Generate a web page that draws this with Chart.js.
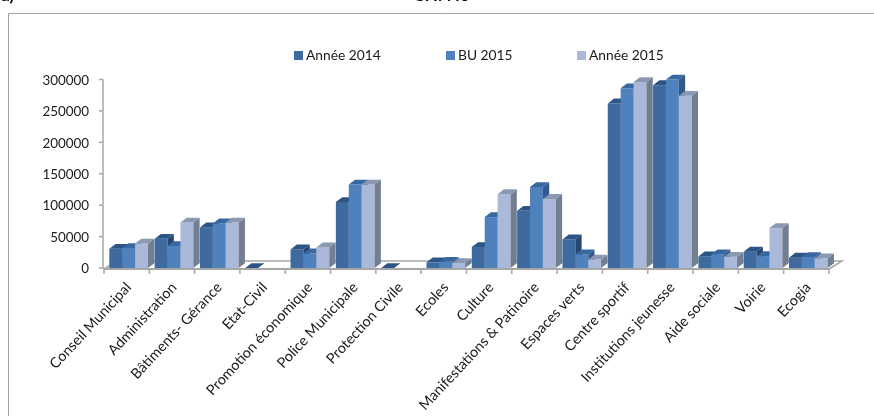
<!DOCTYPE html>
<html>
<head>
<meta charset="utf-8">
<style>
  html, body { margin: 0; padding: 0; background: #fff; }
  #wrap { width: 874px; height: 416px; }
</style>
<script src="https://cdn.jsdelivr.net/npm/chart.js@4"></script>
</head>
<body>
<div id="wrap"><canvas id="bars"></canvas></div>
<script>
const categories = ["Conseil Municipal", "Administration", "Bâtiments- Gérance", "Etat-Civil",
    "Promotion économique", "Police Municipale", "Protection Civile", "Ecoles", "Culture",
    "Manifestations & Patinoire", "Espaces verts", "Centre sportif", "Institutions jeunesse",
    "Aide sociale", "Voirie", "Ecogia"];
const annee2014 = [30700, 46600, 64600, 0, 29600, 105000, 0, 9000, 33500, 91000, 45500, 262000, 291000, 18500, 26000, 16500];
const bu2015 = [31800, 35000, 71000, null, 23200, 133000, null, 10000, 81000, 129000, 22000, 286000, 300000, 22000, 19000, 17500];
const annee2015 = [39000, 72500, 72500, null, 32800, 133000, null, 8000, 117500, 110000, 13500, 296000, 274000, 18000, 63500, 15500];
const yTicks = [0, 50000, 100000, 150000, 200000, 250000, 300000];

const uiFont = "Lato";
const axisGray = "#a6a6a6";
// front, top and side colours of each series
const faces = [
    { front: "#3e6a9f", top: "#2c5585", side: "#26466f" },
    { front: "#4f81bd", top: "#38689f", side: "#305a8b" },
    { front: "#aab9d9", top: "#8a98b2", side: "#727e92" }
];
const depthX = 6.3, depthY = 4.8;

function drawFaces(c, bar, f) {
    const p = bar.getProps(["x", "y", "base", "width"], true);
    const l = p.x - p.width / 2, r = p.x + p.width / 2;
    c.fillStyle = f.side;
    c.beginPath();
    c.moveTo(r, p.y);
    c.lineTo(r + depthX, p.y - depthY);
    c.lineTo(r + depthX, p.base - depthY);
    c.lineTo(r, p.base);
    c.closePath();
    c.fill();
    c.fillStyle = f.top;
    c.beginPath();
    c.moveTo(l, p.y);
    c.lineTo(l + depthX, p.y - depthY);
    c.lineTo(r + depthX, p.y - depthY);
    c.lineTo(r, p.y);
    c.closePath();
    c.fill();
}

// fake Excel 3D look: floor, frame, legend and the bar sides
const excelLook = {
    id: "excelLook",
    beforeDatasetsDraw(chart) {
        const c = chart.ctx, x = chart.scales.x, y = chart.scales.y;
        const left = x.left - 2, right = x.right - 2, base = y.bottom + 1;
        c.save();
        c.strokeStyle = axisGray;
        c.lineWidth = 1.5;
        // floor
        c.beginPath();
        c.moveTo(left, base);
        c.lineTo(left + 13, base - 8);
        c.lineTo(right + 13, base - 8);
        c.lineTo(right, base);
        c.stroke();
        c.lineWidth = 2;
        c.beginPath();
        c.moveTo(left, base);
        c.lineTo(right, base);
        c.stroke();
        // x ticks
        c.lineWidth = 1.5;
        for (let i = 0; i <= categories.length; i++) {
            const px = left + (right - left) * i / categories.length;
            c.beginPath();
            c.moveTo(px, base);
            c.lineTo(px, base + 5);
            c.stroke();
        }
        // y axis
        c.beginPath();
        c.moveTo(left - 1, y.top);
        c.lineTo(left - 1, y.bottom + 1);
        c.stroke();
        yTicks.forEach(v => {
            const py = y.getPixelForValue(v);
            c.beginPath();
            c.moveTo(left - 5, py);
            c.lineTo(left - 1, py);
            c.stroke();
        });
        c.restore();
    },
    // the library draws the last series first, here the first one has to be at the back
    beforeDatasetDraw() {
        return false;
    },
    afterDatasetsDraw(chart) {
        const c = chart.ctx;
        const metas = chart.data.datasets.map((ds, i) => chart.getDatasetMeta(i));
        c.save();
        categories.forEach((name, i) => {
            metas.forEach((meta, s) => {
                const bar = meta.data[i];
                if (!bar || bar.skip || meta.controller.getParsed(i).y == null || isNaN(meta.controller.getParsed(i).y)) return;
                bar.draw(c);
                drawFaces(c, bar, faces[s]);
            });
        });
        c.restore();
    },
    afterDraw(chart) {
        const c = chart.ctx;
        c.save();
        // frame of the pasted picture
        c.strokeStyle = "#a0a0a0";
        c.lineWidth = 1;
        c.beginPath();
        c.moveTo(8.5, 416);
        c.lineTo(8.5, 13.5);
        c.lineTo(874, 13.5);
        c.stroke();
        // legend
        const legendX = [294, 446, 577];
        c.font = "13.8px " + uiFont;
        c.textBaseline = "middle";
        chart.data.datasets.forEach((ds, i) => {
            c.fillStyle = ds.backgroundColor;
            c.fillRect(legendX[i], 51, 9, 9);
            c.fillStyle = "#1a1a1a";
            c.fillText(ds.label, legendX[i] + 12, 55.5);
        });
        // document headings cut by the top of the image
        c.fillStyle = "#111";
        c.font = "bold 17.5px " + uiFont;
        c.textBaseline = "alphabetic";
        c.fillText("a)", 1, 1);
        c.fillText("CH. No", 413, 1);
        c.restore();
    }
};

new Chart(document.getElementById("bars"), {
    type: "bar",
    data: {
        labels: categories,
        datasets: [
            { label: "Année 2014", data: annee2014, backgroundColor: faces[0].front },
            { label: "BU 2015", data: bu2015, backgroundColor: faces[1].front },
            { label: "Année 2015", data: annee2015, backgroundColor: faces[2].front }
        ]
    },
    options: {
        responsive: true,
        maintainAspectRatio: false,
        animation: false,
        layout: { padding: { top: 79.5, right: 43, left: 0, bottom: 0 } },
        datasets: { bar: { categoryPercentage: 0.854, barPercentage: 1 } },
        plugins: { legend: { display: false }, title: { display: false }, tooltip: { enabled: false } },
        scales: {
            x: {
                afterFit: s => { s.height = 148; },
                grid: { display: false },
                border: { display: false },
                ticks: {
                    autoSkip: false, minRotation: 47, maxRotation: 47, padding: 3,
                    color: "#1a1a1a", font: { family: uiFont, size: 14.4 }
                }
            },
            y: {
                min: 0,
                max: 300000,
                afterFit: s => { s.width = 106; },
                afterBuildTicks: s => { s.ticks = yTicks.map(v => ({ value: v })); },
                grid: { display: false, drawTicks: false },
                border: { display: false },
                ticks: {
                    padding: 17, labelOffset: 1, color: "#1a1a1a", font: { family: uiFont, size: 13.4 },
                    callback: v => String(v)
                }
            }
        }
    },
    plugins: [excelLook]
});
</script>
</body>
</html>
